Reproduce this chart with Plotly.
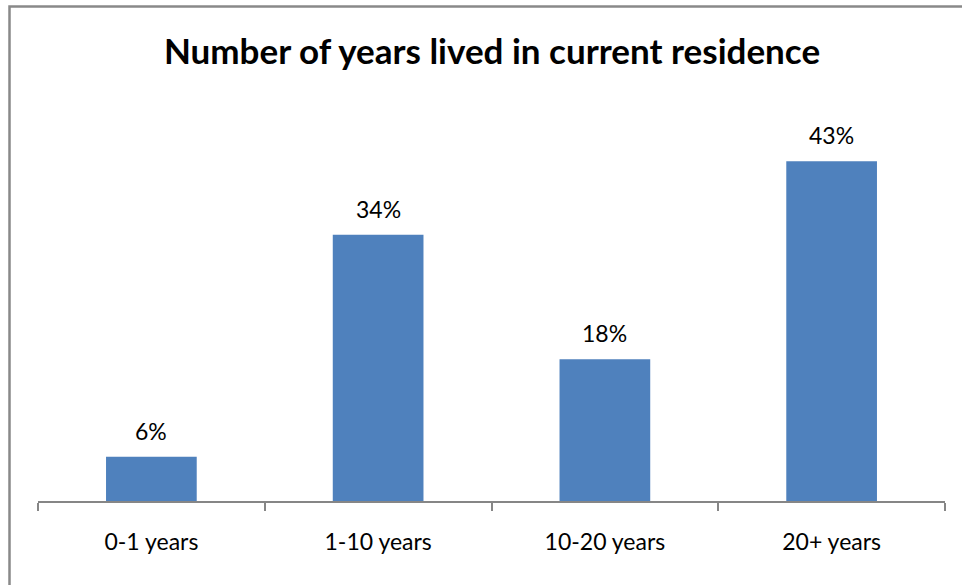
import plotly.graph_objects as go

categories = ["0-1 years", "1-10 years", "10-20 years", "20+ years"]
values = [0.056, 0.338, 0.18, 0.431]
labels = ["6%", "34%", "18%", "43%"]

W, H = 962, 585
L, R, T, B = 38, 17, 107, 84
pw = W - L - R
ph = H - T - B
FONT = "Lato, Calibri, sans-serif"

def px_x(p):
    return (p - L) / pw

def px_y(p):
    return (H - B - p) / ph

fig = go.Figure(go.Bar(
    x=categories, y=values,
    marker_color="#4F81BD", marker_line_width=0,
))

for c, v, t in zip(categories, values, labels):
    fig.add_annotation(x=c, y=v, text=t, showarrow=False,
                       yanchor="middle", yshift=26,
                       font=dict(family=FONT, size=23, color="#000000"))

fig.update_layout(
    width=W, height=H,
    margin=dict(l=L, r=R, t=T, b=B),
    paper_bgcolor="white", plot_bgcolor="white",
    bargap=0.6, showlegend=False,
    title=dict(text="<b>Number of years lived in current residence</b>",
               x=px_x(492), xref="paper", xanchor="center",
               y=1 - 52 / H, yanchor="middle",
               font=dict(family=FONT, size=35, color="#000000")),
    xaxis=dict(showline=True, linecolor="#868686", linewidth=1.5,
               ticks="outside", tickson="boundaries", ticklen=8, tickwidth=1.5,
               tickcolor="#868686", showgrid=False, ticklabelstandoff=20,
               tickfont=dict(family=FONT, size=23, color="#000000")),
    yaxis=dict(range=[0, 0.5], visible=False, showgrid=False, zeroline=False),
    shapes=[dict(type="rect", xref="paper", yref="paper",
                 x0=px_x(9.5), x1=px_x(1100), y0=px_y(700), y1=px_y(6.5),
                 line=dict(color="#898989", width=2.5), fillcolor="rgba(0,0,0,0)",
                 layer="below")],
)

fig.write_html("out.html", config={"displayModeBar": False},
               post_script="document.body.style.margin='0';")
